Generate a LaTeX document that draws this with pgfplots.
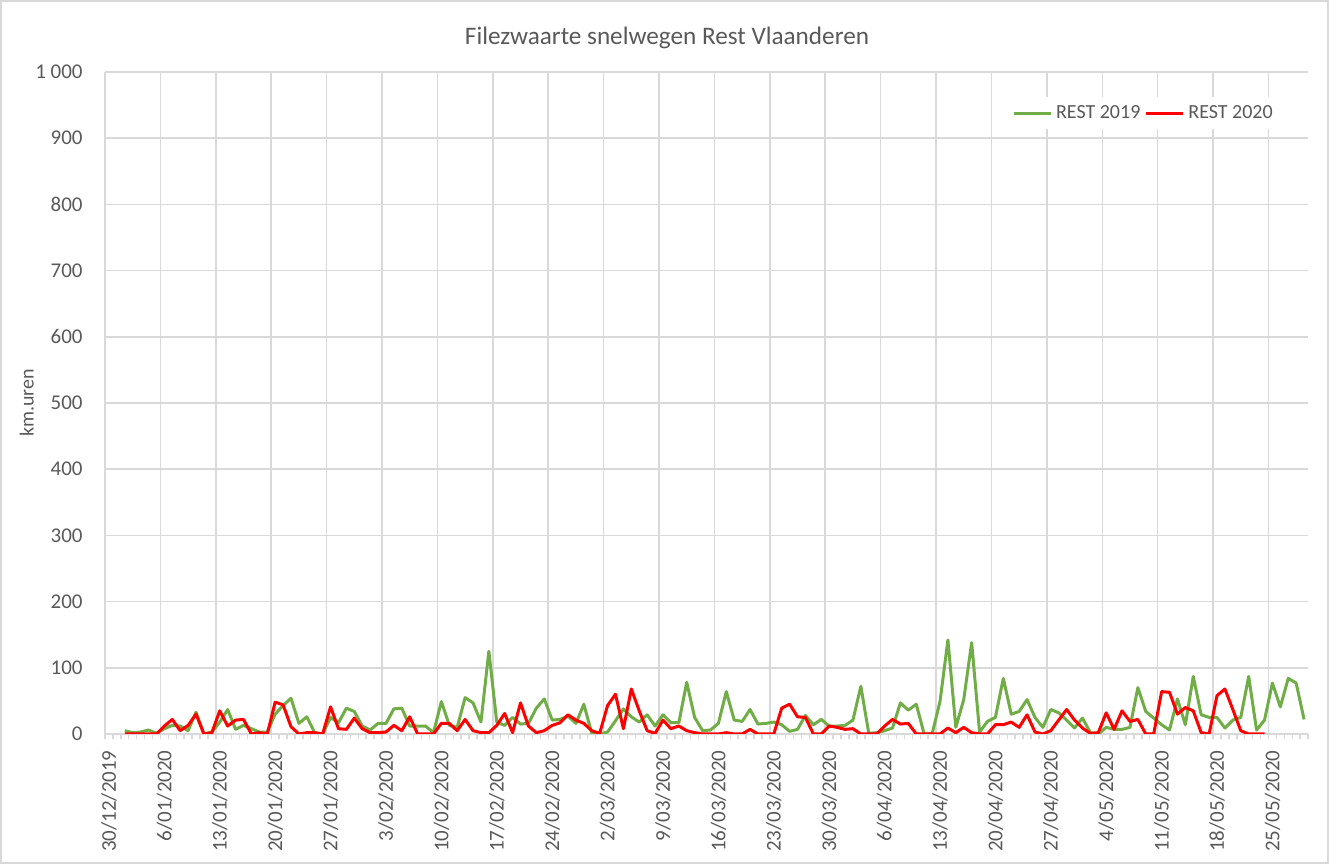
\documentclass[border=0pt]{standalone}
\usepackage{pgfplots}
\pgfplotsset{compat=1.18}
\usepackage{fontspec}
\setmainfont{Carlito}
\definecolor{ggreen}{HTML}{70AD47}
\definecolor{rred}{HTML}{FF0000}
\definecolor{gridc}{HTML}{D9D9D9}
\definecolor{txt}{HTML}{595959}
\begin{document}
\begin{tikzpicture}[x=1bp,y=1bp]
\path (0,0) rectangle (667,433);
\draw[gridc, line width=0.6bp] (0.5,1.5) rectangle (664,432.5);
\node[txt, font=\fontsize{12.6bp}{14bp}\selectfont] at (333.5,414) {Filezwaarte snelwegen Rest Vlaanderen};
\begin{axis}[
  at={(52.5bp,66bp)}, anchor=south west,
  scale only axis, width=601.5bp, height=331bp,
  xmin=0, xmax=152, ymin=0, ymax=1000,
  axis line style={draw=none},
  xtick={0,7,...,147},
  xticklabels={30/12/2019,6/01/2020,13/01/2020,20/01/2020,27/01/2020,3/02/2020,10/02/2020,17/02/2020,24/02/2020,2/03/2020,9/03/2020,16/03/2020,23/03/2020,30/03/2020,6/04/2020,13/04/2020,20/04/2020,27/04/2020,4/05/2020,11/05/2020,18/05/2020,25/05/2020},
  minor xtick={0,1,...,152},
  xtick pos=bottom, tick align=outside,
  major tick length=2.5bp, minor tick length=2.5bp,
  every tick/.style={gridc, line width=0.7bp},
  ytick={0,100,...,1000},
  yticklabels={0,100,200,300,400,500,600,700,800,900,1 000},
  ytick style={draw=none},
  xmajorgrids, ymajorgrids,
  major grid style={gridc, line width=0.75bp},
  xticklabel style={xshift=2bp, rotate=90, anchor=east, inner sep=0pt, txt, font=\fontsize{10.5bp}{12bp}\selectfont},
  xticklabel shift=5.5bp,
  yticklabel style={anchor=east, inner sep=0pt, txt, font=\fontsize{10.5bp}{12bp}\selectfont},
  yticklabel shift=8.5bp,
  ylabel={km.uren},
  ylabel style={at={(axis description cs:-0.065,0.5)}, rotate=0, anchor=center, txt, font=\fontsize{10bp}{12bp}\selectfont},
  legend style={at={(axis description cs:0.9776,0.938)}, anchor=east, draw=none, fill=white,
    font=\fontsize{10bp}{12bp}\selectfont, text=txt, inner sep=2bp,
    /tikz/every even column/.append style={column sep=0bp}},
  legend columns=-1,
  legend image code/.code={\draw[#1] (0bp,0bp) -- (18.5bp,0bp);},
  every axis plot/.append style={line width=1.5bp, line join=round},
]
\addplot[ggreen, mark=none] coordinates {
(2.5,5)(3.5,2)(4.5,3)(5.5,6)(6.5,1)(7.5,8)(8.5,13)(9.5,12)(10.5,5)(11.5,33)(12.5,0)(13.5,3)(14.5,18)(15.5,37)(16.5,7)(17.5,13)(18.5,8)(19.5,3)(20.5,3)(21.5,30)(22.5,43)(23.5,54)(24.5,16)(25.5,26)(26.5,2)(27.5,0)(28.5,25)(29.5,17)(30.5,39)(31.5,34)(32.5,12)(33.5,6)(34.5,16)(35.5,16)(36.5,38)(37.5,39)(38.5,12)(39.5,12)(40.5,12)(41.5,2)(42.5,49)(43.5,13)(44.5,10)(45.5,55)(46.5,47)(47.5,18)(48.5,125)(49.5,18)(50.5,13)(51.5,25)(52.5,15)(53.5,16)(54.5,39)(55.5,53)(56.5,21)(57.5,22)(58.5,27)(59.5,16)(60.5,45)(61.5,1)(62.5,0)(63.5,3)(64.5,20)(65.5,38)(66.5,26)(67.5,18)(68.5,29)(69.5,12)(70.5,29)(71.5,17)(72.5,17)(73.5,78)(74.5,25)(75.5,5)(76.5,6)(77.5,16)(78.5,64)(79.5,21)(80.5,19)(81.5,37)(82.5,15)(83.5,16)(84.5,18)(85.5,14)(86.5,4)(87.5,7)(88.5,28)(89.5,14)(90.5,22)(91.5,12)(92.5,12)(93.5,13)(94.5,21)(95.5,72)(96.5,1)(97.5,2)(98.5,5)(99.5,9)(100.5,47)(101.5,36)(102.5,45)(103.5,0)(104.5,0)(105.5,49)(106.5,142)(107.5,10)(108.5,52)(109.5,138)(110.5,3)(111.5,19)(112.5,25)(113.5,84)(114.5,30)(115.5,34)(116.5,52)(117.5,25)(118.5,10)(119.5,37)(120.5,32)(121.5,21)(122.5,9)(123.5,24)(124.5,2)(125.5,0)(126.5,10)(127.5,7)(128.5,7)(129.5,10)(130.5,70)(131.5,34)(132.5,24)(133.5,14)(134.5,6)(135.5,53)(136.5,14)(137.5,87)(138.5,29)(139.5,25)(140.5,25)(141.5,9)(142.5,21)(143.5,25)(144.5,87)(145.5,6)(146.5,21)(147.5,77)(148.5,41)(149.5,84)(150.5,77)(151.5,22)
};
\addlegendentry{REST 2019}
\addplot[rred, mark=none] coordinates {
(2.5,0)(3.5,0)(4.5,0)(5.5,0)(6.5,0)(7.5,12)(8.5,22)(9.5,5)(10.5,13)(11.5,30)(12.5,0)(13.5,2)(14.5,35)(15.5,12)(16.5,21)(17.5,22)(18.5,0)(19.5,2)(20.5,0)(21.5,48)(22.5,44)(23.5,11)(24.5,0)(25.5,2)(26.5,2)(27.5,0)(28.5,41)(29.5,8)(30.5,7)(31.5,24)(32.5,8)(33.5,2)(34.5,2)(35.5,3)(36.5,13)(37.5,5)(38.5,26)(39.5,0)(40.5,0)(41.5,0)(42.5,16)(43.5,16)(44.5,5)(45.5,22)(46.5,5)(47.5,2)(48.5,2)(49.5,13)(50.5,31)(51.5,2)(52.5,47)(53.5,12)(54.5,2)(55.5,5)(56.5,13)(57.5,17)(58.5,29)(59.5,21)(60.5,16)(61.5,5)(62.5,1)(63.5,43)(64.5,60)(65.5,8)(66.5,68)(67.5,35)(68.5,5)(69.5,1)(70.5,21)(71.5,8)(72.5,12)(73.5,5)(74.5,2)(75.5,0)(76.5,0)(77.5,0)(78.5,2)(79.5,0)(80.5,0)(81.5,7)(82.5,0)(83.5,0)(84.5,0)(85.5,39)(86.5,45)(87.5,26)(88.5,25)(89.5,0)(90.5,0)(91.5,12)(92.5,10)(93.5,7)(94.5,8)(95.5,0)(96.5,0)(97.5,0)(98.5,12)(99.5,22)(100.5,15)(101.5,16)(102.5,0)(103.5,0)(104.5,0)(105.5,0)(106.5,9)(107.5,2)(108.5,10)(109.5,2)(110.5,0)(111.5,0)(112.5,14)(113.5,14)(114.5,18)(115.5,10)(116.5,29)(117.5,3)(118.5,0)(119.5,5)(120.5,21)(121.5,37)(122.5,21)(123.5,9)(124.5,1)(125.5,2)(126.5,32)(127.5,7)(128.5,35)(129.5,19)(130.5,22)(131.5,0)(132.5,0)(133.5,64)(134.5,63)(135.5,30)(136.5,40)(137.5,35)(138.5,2)(139.5,0)(140.5,58)(141.5,68)(142.5,37)(143.5,5)(144.5,0)(145.5,0)(146.5,0)
};
\addlegendentry{REST 2020}
\end{axis}
\end{tikzpicture}
\end{document}
